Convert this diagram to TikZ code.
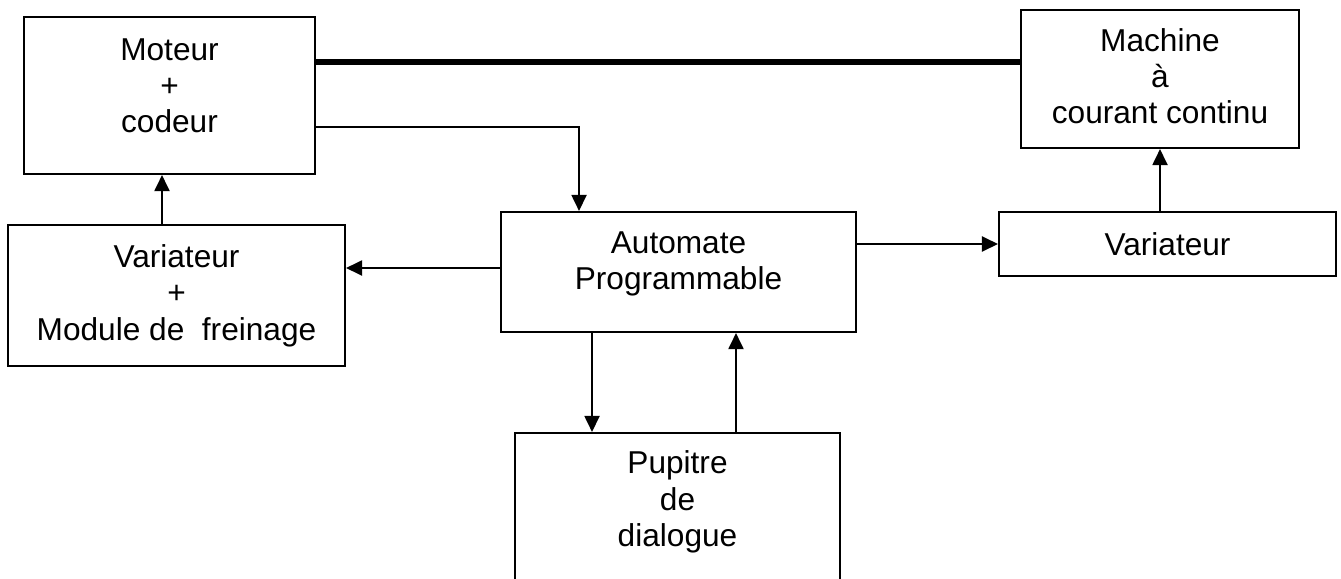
\documentclass[tikz,border=0pt]{standalone}
\usepackage{fontspec}
\setmainfont{Liberation Sans}
\usetikzlibrary{arrows.meta}
\begin{document}
\begin{tikzpicture}[
    x=0.02cm, y=-0.02cm,
    box/.style={rectangle, draw, line width=1.2pt, align=center, inner sep=0pt,
        font=\fontsize{18}{20.7}\selectfont},
    arrow/.style={-{Triangle[length=0.32cm,width=0.3cm]}, line width=1.1pt},
    shaft/.style={line width=3.2pt}
]
\useasboundingbox (0,0) rectangle (1341,578);
\clip (0,0) rectangle (1341,578);

\node[box, minimum width=5.82cm, minimum height=3.14cm, text depth=0.4cm] (moteur) at (169.5,95.5) {Moteur\\+\\codeur};
\node[box, minimum width=5.56cm, minimum height=2.76cm, text depth=0.12cm] (machine) at (1160,79) {Machine\\à\\courant continu};
\node[box, minimum width=7.1cm, minimum height=2.4cm, text depth=0.45cm] (automate) at (678.5,272) {Automate\\Programmable};
\node[box, minimum width=6.74cm, minimum height=1.28cm] (variateur) at (1167.5,244) {Variateur};
\node[box, minimum width=6.74cm, minimum height=2.82cm] (varmod) at (176.5,295.5) {Variateur\\+\\Module de\ \ freinage};
\node[box, minimum width=6.5cm, minimum height=3.4cm, text depth=0.77cm] (pupitre) at (677.5,518) {Pupitre\\de\\dialogue};

% points de depart des liaisons
\coordinate (m1) at ([yshift=0.67cm]moteur.east);
\coordinate (m2) at ([yshift=-0.63cm]moteur.east);
\coordinate (m3) at ([xshift=-0.15cm]moteur.south);
\coordinate (a1) at ([xshift=-1.73cm]automate.south);
\coordinate (a2) at ([xshift=1.15cm]automate.south);
\coordinate (a3) at ([xshift=-1.99cm]automate.north);
\coordinate (a4) at ([yshift=0.08cm]automate.west);

\draw[shaft] (m1) -- (m1 -| machine.west);
\draw[arrow] (m2) -| (a3);
\draw[arrow] (automate.east |- variateur.west) -- (variateur.west);
\draw[arrow] (variateur.north -| machine.south) -- (machine.south);
\draw[arrow] (a4) -- (a4 -| varmod.east);
\draw[arrow] (m3 |- varmod.north) -- (m3);
\draw[arrow] (a1) -- (a1 |- pupitre.north);
\draw[arrow] (a2 |- pupitre.north) -- (a2);
\end{tikzpicture}
\end{document}
